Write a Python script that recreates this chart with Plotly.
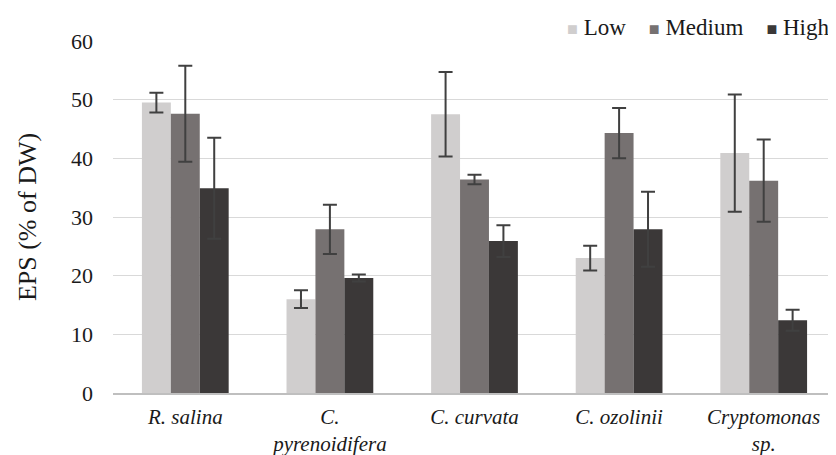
import plotly.graph_objects as go

categories = ["<i>R. salina</i>", "<i>C.<br>pyrenoidifera</i>", "<i>C. curvata</i>",
              "<i>C. ozolinii</i>", "<i>Cryptomonas<br>sp.</i>"]
low = [49.5, 16.0, 47.5, 23.0, 40.9]
low_err = [1.7, 1.5, 7.2, 2.1, 10.0]
medium = [47.6, 27.9, 36.4, 44.3, 36.2]
medium_err = [8.2, 4.2, 0.8, 4.3, 7.0]
high = [34.9, 19.6, 25.9, 27.9, 12.4]
high_err = [8.6, 0.6, 2.7, 6.4, 1.8]

series_names = ["Low", "Medium", "High"]
series_colors = ["#d0cece", "#767171", "#3b3838"]
series = list(zip(series_names, [low, medium, high], [low_err, medium_err, high_err], series_colors))

SERIF = "Liberation Serif, Times New Roman, Times, DejaVu Serif, serif"

fig = go.Figure()
for name, vals, errs, col in series:
    fig.add_trace(go.Bar(
        name=name, x=categories, y=vals, marker_color=col, marker_line_width=0,
        showlegend=False,
        error_y=dict(type="data", array=errs, visible=True, color="#404040",
                     thickness=2, width=7),
    ))

# legend drawn as one text line with coloured squares (Excel-style compact legend)
legend_text = "&nbsp;&nbsp;&nbsp;&nbsp;".join(
    f"<span style='color:{c};font-size:18px'>■</span>&nbsp;{n}"
    for n, c in zip(series_names, series_colors))
fig.add_annotation(text=legend_text, xref="paper", yref="paper", x=1, y=1,
                   xanchor="right", yanchor="bottom", xshift=-4, yshift=-1,
                   showarrow=False, font=dict(family=SERIF, size=23, color="#1a1a1a"))

# page body adds an 8px margin; size the figure so the plot lands where the reference has it
fig.update_layout(
    width=828, height=447, barmode="group", bargap=0.4, bargroupgap=0,
    plot_bgcolor="white", paper_bgcolor="white",
    margin=dict(l=105, r=0, t=33, b=62, autoexpand=False),
    font=dict(family=SERIF, color="#1a1a1a", size=20),
    yaxis=dict(range=[0, 60], dtick=10, showgrid=True, gridcolor="#d9d9d9",
               gridwidth=1.2, zeroline=False, ticks="", tickfont=dict(size=22),
               ticklabelstandoff=19,
               title=dict(text="EPS (% of DW)", font=dict(size=26), standoff=26)),
    xaxis=dict(showline=True, linecolor="#bfbfbf", linewidth=1.5, ticks="",
               tickfont=dict(size=21), ticklabelstandoff=4),
)

fig.write_html("out.html")
